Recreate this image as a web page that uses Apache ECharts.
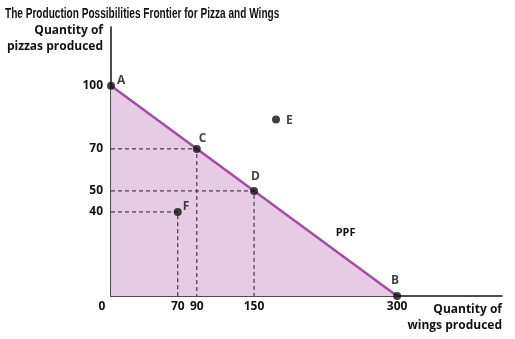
<!DOCTYPE html>
<html>
<head>
<meta charset="utf-8">
<script src="https://cdn.jsdelivr.net/npm/echarts@6/dist/echarts.min.js"></script>
<style>
  html, body { margin: 0; padding: 0; background: #fff; }
  #ppf { width: 515px; height: 339px; }
</style>
</head>
<body>
<div id="ppf"></div>
<script>
// frontier end points (wings, pizzas)
var ppfWings = [0, 300];
var ppfPizzas = [100, 0];
// labelled points
var pointNames = ['A', 'B', 'C', 'D', 'E', 'F'];
var pointWings = [0, 300, 90, 150, 173, 70];
var pointPizzas = [100, 0, 70, 50, 84, 40];
// points that get dashed guides to the axes
var guideNames = ['C', 'D', 'F'];
// tick labels
var xTicks = [0, 70, 90, 150, 300];
var yTicks = [40, 50, 70, 100];

var FONT = '"Open Sans", sans-serif';
var chart = echarts.init(document.getElementById('ppf'));

// label offsets, style only
var labelOffset = {
    A: [10, -7], B: [-2, -17], C: [6, -12], D: [1, -16], E: [14, -1], F: [9, -7]
};

var pointData = [];
for (var i = 0; i < pointNames.length; i++) {
    pointData.push({
        name: pointNames[i],
        value: [pointWings[i], pointPizzas[i]],
        label: { position: labelOffset[pointNames[i]] }
    });
}

var guideSeries = [];
for (var j = 0; j < guideNames.length; j++) {
    var k = pointNames.indexOf(guideNames[j]);
    guideSeries.push({
        type: 'line',
        silent: true,
        symbol: 'none',
        z: 5,
        lineStyle: { color: '#222', width: 1, type: [4, 3] },
        data: [[0, pointPizzas[k]], [pointWings[k], pointPizzas[k]], [pointWings[k], 0]]
    });
}

var ppfData = [];
for (var m = 0; m < ppfWings.length; m++) {
    ppfData.push([ppfWings[m], ppfPizzas[m]]);
}

var option = {
    animation: false,
    graphic: [{
        type: 'text',
        left: 5,
        top: 7,
        scaleX: 0.72,
        style: {
            text: 'The Production Possibilities Frontier for Pizza and Wings',
            font: 'bold 14px "Liberation Sans", sans-serif',
            fill: '#111'
        }
    }, {
        // x axis title, one line per element so both end at the axis end
        type: 'text',
        right: 13,
        top: 304,
        style: {
            text: 'Quantity of',
            font: 'bold 12px "Open Sans", sans-serif',
            fill: '#111'
        }
    }, {
        type: 'text',
        right: 13,
        top: 320,
        style: {
            text: 'wings produced',
            font: 'bold 12px "Open Sans", sans-serif',
            fill: '#111'
        }
    }],
    grid: { left: 111, right: 13, top: 27, bottom: 43, outerBoundsMode: 'none' },
    xAxis: {
        type: 'value',
        min: 0,
        max: 410,
        splitLine: { show: false },
        axisTick: { show: false },
        axisLine: { show: true, lineStyle: { color: '#111', width: 1.5 } },
        axisLabel: {
            customValues: xTicks,
            margin: 5,
            fontFamily: FONT, fontSize: 12, fontWeight: 'bold', color: '#111',
            formatter: function (v) { return v === 0 ? '{z|0}' : String(v); },
            rich: { z: { fontFamily: FONT, fontSize: 12, fontWeight: 'bold', color: '#111', padding: [0, 18, 0, 0] } }
        }
    },
    yAxis: {
        type: 'value',
        min: 0,
        max: 128,
        name: 'Quantity of\npizzas produced',
        nameLocation: 'end',
        nameGap: -12,
        nameTextStyle: {
            fontFamily: FONT, fontSize: 12, fontWeight: 'bold', color: '#111',
            align: 'right', verticalAlign: 'middle', lineHeight: 16, padding: [0, 8, 0, 0]
        },
        splitLine: { show: false },
        axisTick: { show: false },
        axisLine: { show: true, lineStyle: { color: '#111', width: 1.5 } },
        axisLabel: {
            customValues: yTicks,
            margin: 8,
            fontFamily: FONT, fontSize: 12, fontWeight: 'bold', color: '#111'
        }
    },
    series: [
        {
            name: 'PPF',
            type: 'line',
            symbol: 'none',
            z: 4,
            data: ppfData,
            lineStyle: { color: '#a24ea0', width: 2.5 },
            areaStyle: { color: '#e7cbe5', opacity: 1 },
            markPoint: {
                symbol: 'circle',
                symbolSize: 0,
                data: [{ coord: [246, 30], value: 'PPF' }],
                label: {
                    show: true, formatter: 'PPF',
                    fontFamily: FONT, fontSize: 11, fontWeight: 'bold', color: '#111'
                }
            }
        }
    ].concat(guideSeries).concat([
        {
            type: 'scatter',
            z: 6,
            symbolSize: 8,
            itemStyle: { color: '#111' },
            data: pointData,
            label: {
                show: true,
                formatter: '{b}',
                fontFamily: FONT, fontSize: 12, fontWeight: 'bold', color: '#111'
            }
        }
    ])
};

chart.setOption(option);
</script>
</body>
</html>
